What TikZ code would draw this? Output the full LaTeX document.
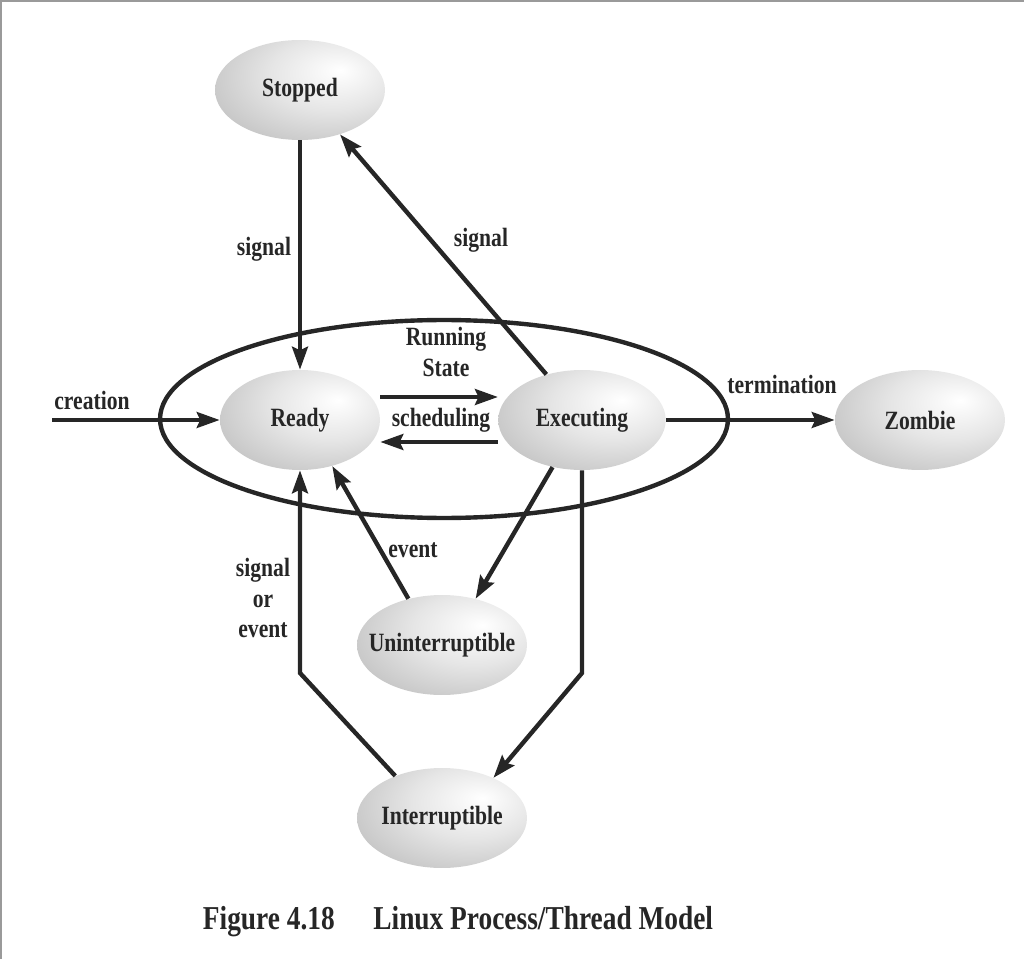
\documentclass[tikz,border=0pt]{standalone}
\usepackage{fontspec}
\setmainfont{Liberation Serif}[FakeStretch=0.82]
\usepackage{tikz}
\usetikzlibrary{positioning,arrows.meta,shapes.geometric}
\definecolor{LInk}{HTML}{262626}
\definecolor{LFrame}{HTML}{9A9A9A}
\pgfdeclareradialshading{stateshade}{\pgfpoint{12bp}{10bp}}{color(0bp)=(white); color(18bp)=(black!10); color(40bp)=(black!26); color(62bp)=(black!38); color(80bp)=(black!42)}

\begin{document}
\begin{tikzpicture}[x=0.02cm, y=-0.02cm,
  every node/.style={font=\fontsize{15}{17.6}\selectfont\bfseries, text=LInk},
  state/.style={ellipse, shade, shading=stateshade, minimum width=3.4cm, minimum height=2cm, inner sep=0pt},
  run/.style={ellipse, draw=LInk, line width=2.5pt, minimum width=11.36cm, minimum height=3.96cm},
  lbl/.style={align=center},
  arrow/.style={-{Stealth[length=13pt,width=9pt,inset=2pt]}, draw=LInk, line width=2.5pt}]
\useasboundingbox (0,0) rectangle (1024,959);
\draw[LFrame, line width=2pt] (0,959) -- (0,0) -- (1024,0);
\node[run] (rs) at (444,419) {};
\node[state, label=center:Stopped] (stp) at (300,90) {};
\node[state, minimum width=3.2cm, label=center:Ready] (rdy) at (300,420) {};
\node[state, minimum width=3.35cm, label=center:Executing] (exe) at (582,420) {};
\node[state, label=center:Zombie] (zmb) at (920,420) {};
\node[state, label=center:Uninterruptible] (unt) at (442,645) {};
\node[state, label=center:Interruptible] (int) at (442,818) {};
\coordinate (src) at (52,420);
\coordinate (bendR) at (582,673);
\coordinate (bendL) at (300,673);
\draw[arrow] (src) -- (rdy.west);
\draw[arrow] (stp) -- (rdy);
\draw[arrow] (exe.128) -- (stp.-48);
\draw[arrow] ([yshift=0.46cm]rdy.east) -- ([yshift=0.46cm]exe.west);
\draw[arrow] ([yshift=-0.44cm]exe.west) -- ([yshift=-0.44cm]rdy.east);
\draw[arrow] (exe) -- (zmb);
\draw[arrow] (exe.-122) -- (unt.54);
\draw[arrow] (unt.126) -- (rdy.-55);
\draw[arrow] (exe.south) -- (bendR) -- (int.38);
\draw[arrow] (int.138) -- (bendL) -- (rdy.south);
\node[lbl] (lcre) at (92,400) {creation};
\node[lbl] (lsig1) at (264,249) {signal};
\node[lbl] (lsig2) at (481,240) {signal};
\node[lbl] (lrun) at (446,352) {Running\\State};
\node[lbl] (lsch) at (441,420) {scheduling};
\node[lbl] (lter) at (782,384) {termination};
\node[lbl] (levt) at (413,550) {event};
\node[lbl] (lsoe) at (263,598) {signal\\or\\event};
\node[font=\fontsize{19}{22}\selectfont\bfseries] (cap) at (458,922) {Figure 4.18\hspace{22pt}Linux Process/Thread Model};
\end{tikzpicture}
\end{document}
